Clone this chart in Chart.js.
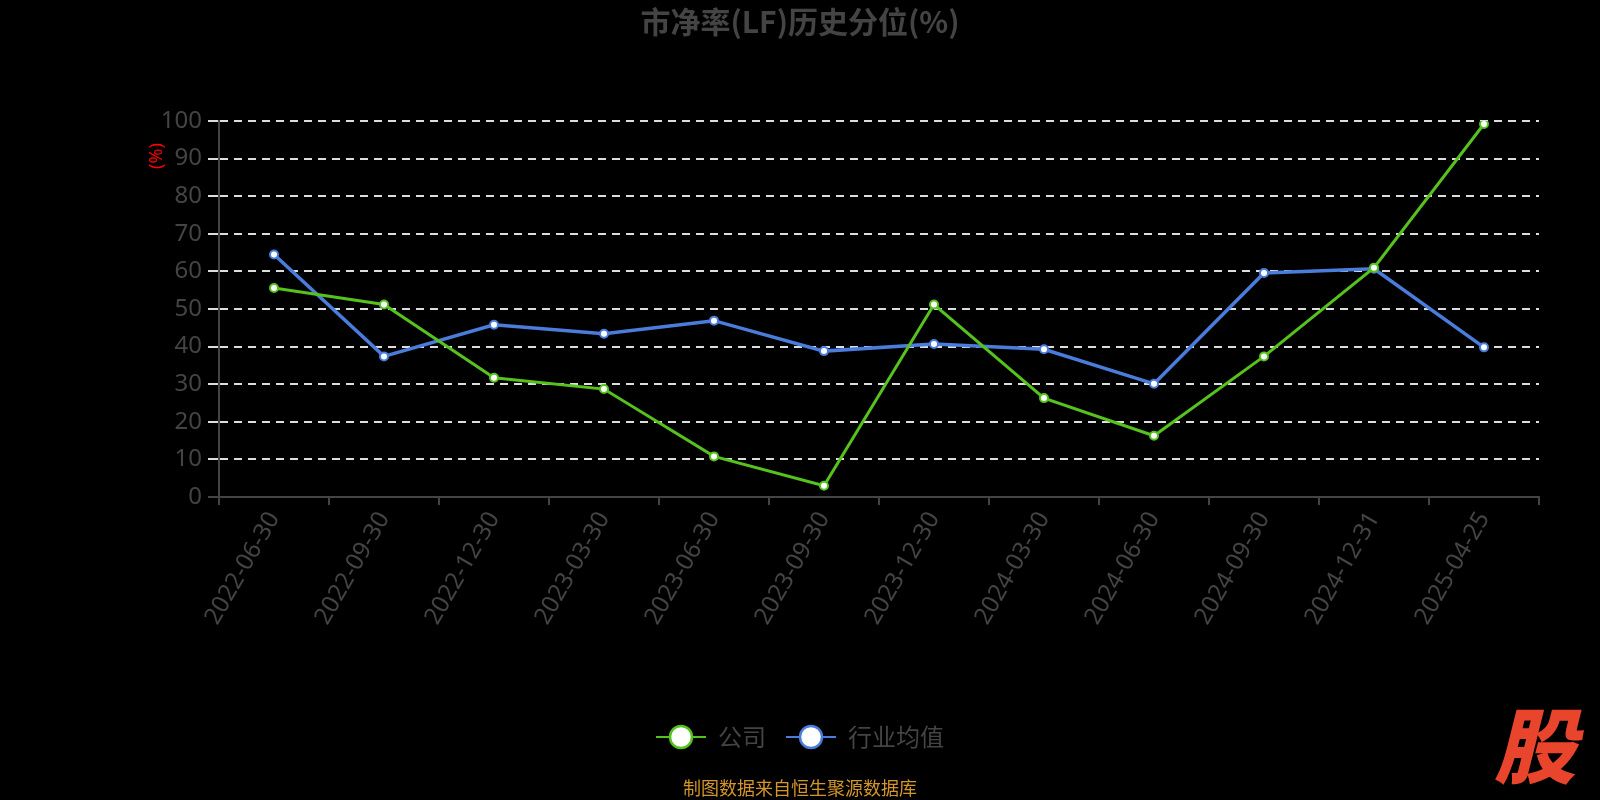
<!DOCTYPE html>
<html>
<head>
<meta charset="utf-8">
<script src="https://cdn.jsdelivr.net/npm/chart.js@4.4.1/dist/chart.umd.min.js"></script>
<style>
  html, body { margin: 0; padding: 0; background: #000; }
  #wrap { position: relative; width: 1600px; height: 800px; }
</style>
</head>
<body>
<div id="wrap"><canvas id="c" width="1600" height="800"></canvas></div>
<script>
// PB (LF) historical percentile — company vs industry average
var dates = ['2022-06-30', '2022-09-30', '2022-12-30', '2023-03-30', '2023-06-30', '2023-09-30',
             '2023-12-30', '2024-03-30', '2024-06-30', '2024-09-30', '2024-12-31', '2025-04-25'];
var companyPct = [55.6, 51.2, 31.7, 28.7, 10.8, 3.0, 51.2, 26.3, 16.3, 37.4, 61.0, 99.2];
var industryPct = [64.5, 37.4, 45.8, 43.4, 46.9, 38.8, 40.7, 39.3, 30.1, 59.6, 60.7, 39.8];
var seriesNames = ['公司', '行业均值'];

var GREEN = '#56c21d';
var BLUE = '#4a7ddb';
var AXIS = '#444';
var TEXT = '#444';
var CJK = '"Noto Sans", "Noto Sans CJK SC", sans-serif';

function legendIcon(color) {
  var cv = document.createElement('canvas');
  cv.width = 50; cv.height = 28;
  var g = cv.getContext('2d');
  g.strokeStyle = color;
  g.lineWidth = 2;
  g.beginPath(); g.moveTo(0, 14); g.lineTo(50, 14); g.stroke();
  g.beginPath(); g.arc(25, 14, 11, 0, Math.PI * 2);
  g.fillStyle = '#fff'; g.fill();
  g.lineWidth = 2.5; g.stroke();
  return cv;
}
var legendIcons = [legendIcon(GREEN), legendIcon(BLUE)];

var extras = {
  id: 'extras',
  afterDraw: function(chart) {
    var ctx = chart.ctx;
    ctx.save();
    ctx.textAlign = 'center';
    ctx.textBaseline = 'middle';
    // unit label on the y axis
    ctx.save();
    ctx.translate(157, 156);
    ctx.rotate(-Math.PI / 2);
    ctx.fillStyle = '#ff0000';
    ctx.font = '18px ' + CJK;
    ctx.fillText('(%)', 0, 0);
    ctx.restore();
    // source note
    ctx.fillStyle = '#d4962a';
    ctx.font = '18px "Noto Sans CJK SC", sans-serif';
    ctx.fillText('制图数据来自恒生聚源数据库', 800, 788);
    // logo
    ctx.fillStyle = '#e8452c';
    ctx.font = 'italic 900 82px "Noto Sans CJK SC", sans-serif';
    ctx.fillText('股', 1535, 746);
    ctx.restore();
  }
};

function lineDs(label, data, color, width) {
  return {
    label: label,
    data: data,
    borderColor: color,
    backgroundColor: '#fff',
    borderWidth: width,
    pointRadius: 4,
    pointBorderWidth: 2,
    pointBackgroundColor: '#fff',
    pointBorderColor: color,
    tension: 0,
    fill: false
  };
}

new Chart(document.getElementById('c').getContext('2d'), {
  type: 'line',
  data: {
    labels: dates,
    datasets: [
      lineDs(seriesNames[0], companyPct, GREEN, 3),
      lineDs(seriesNames[1], industryPct, BLUE, 3.5)
    ]
  },
  options: {
    responsive: false,
    devicePixelRatio: 1,
    animation: false,
    layout: { padding: { left: 61, right: 61, top: 0, bottom: 41 } },
    plugins: {
      title: {
        display: true,
        text: '市净率(LF)历史分位(%)',
        color: TEXT,
        font: { size: 30, weight: 'bold', family: '"Noto Sans CJK SC", sans-serif', lineHeight: 1.2 },
        padding: { top: 4, bottom: 81 }
      },
      legend: {
        position: 'bottom',
        labels: {
          color: TEXT,
          font: { size: 24, family: '"Noto Sans CJK SC", sans-serif' },
          usePointStyle: true,
          pointStyleWidth: 50,
          padding: 20,
          generateLabels: function(chart) {
            var items = Chart.defaults.plugins.legend.labels.generateLabels(chart);
            items.forEach(function(it, i) { it.pointStyle = legendIcons[i]; });
            return items;
          }
        }
      },
      tooltip: { enabled: false }
    },
    scales: {
      x: {
        offset: true,
        afterFit: function(s) { s.height = 208; },
        border: { color: AXIS, width: 2 },
        grid: { offset: true, drawOnChartArea: false, drawTicks: true, tickLength: 8, color: AXIS, lineWidth: 2 },
        ticks: {
          color: TEXT,
          font: { size: 24, family: CJK },
          minRotation: 60,
          maxRotation: 60,
          autoSkip: false,
          padding: 2
        }
      },
      y: {
        min: 0,
        max: 100,
        afterFit: function(s) { s.width = 158; },
        border: { color: AXIS, width: 2, dash: [8, 6] },
        grid: {
          color: function(c) { return c.tick && c.tick.value === 0 ? 'rgba(0,0,0,0)' : '#ddd'; },
          tickColor: function(c) { return c.tick && c.tick.value === 0 ? AXIS : '#ddd'; },
          lineWidth: 2,
          tickLength: 11
        },
        ticks: {
          stepSize: 10,
          color: TEXT,
          font: { size: 24, family: CJK },
          padding: 6
        }
      }
    }
  },
  plugins: [extras]
});
</script>
</body>
</html>
